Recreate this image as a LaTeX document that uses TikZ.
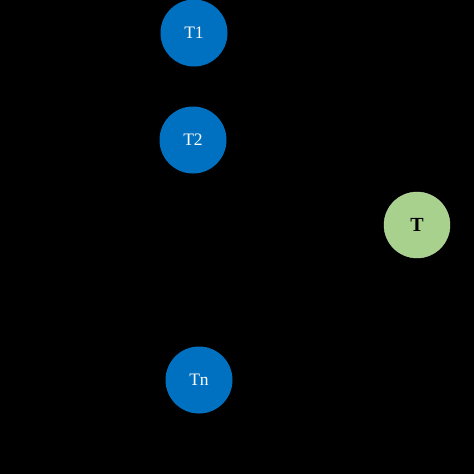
\documentclass[tikz,border=0pt]{standalone}
\usepackage{fontspec}
\setmainfont{Liberation Serif}
\definecolor{tblue}{HTML}{0070C0}
\definecolor{tgreen}{HTML}{A9D18E}
\begin{document}
\begin{tikzpicture}[x=1pt,y=-1pt,
  src/.style={circle,fill=tblue,minimum size=67pt,inner sep=0pt,text=white,font=\fontsize{17.5}{19}\selectfont},
  tgt/.style={circle,fill=tgreen,draw=tgreen!80!white,minimum size=66pt,inner sep=0pt,text=black,font=\fontsize{20}{22}\selectfont\bfseries}]
\fill[black] (0,0) rectangle (474,474);
\useasboundingbox (0,0) rectangle (474,474);
\node[src] (t1) at (194,33) {T1};
\node[src] (t2) at (193,140) {T2};
\node[src] (tn) at (199,380) {Tn};
\node[tgt] (t) at (417,225) {T};
\end{tikzpicture}
\end{document}
